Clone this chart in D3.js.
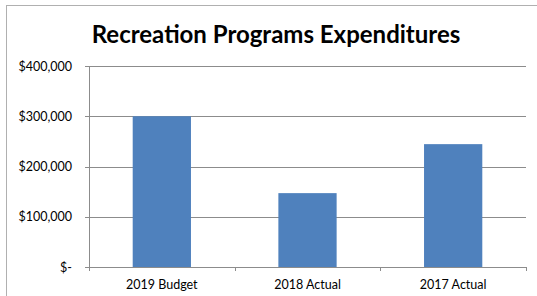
<!DOCTYPE html>
<html lang="en">
<head>
    <meta charset="UTF-8">
    <title>Recreation Programs Expenditures</title>
    <script src="https://cdn.jsdelivr.net/npm/d3@7/dist/d3.min.js"></script>
    <style>
        body { margin: 0; background: #fff; }
        text { font-family: Lato, "Open Sans", sans-serif; fill: #000; }
    </style>
</head>
<body>
<div id="main"></div>
<script>
    // chart data
    const categories = ['2019 Budget', '2018 Actual', '2017 Actual'];
    const expenditures = [300000, 147000, 244500];
    const yTicks = [0, 100000, 200000, 300000, 400000];

    const width = 537, height = 296;
    const margin = {top: 66, right: 11, bottom: 29, left: 89};

    const svg = d3.select('#main').append('svg')
        .attr('width', width)
        .attr('height', height);

    // outer chart border
    svg.append('rect')
        .attr('x', 6.5).attr('y', 5.5)
        .attr('width', 540).attr('height', 300)
        .attr('fill', '#fff')
        .attr('stroke', '#b0b0b0');

    svg.append('text')
        .attr('x', 276).attr('y', 43)
        .attr('text-anchor', 'middle')
        .style('font-size', '24px')
        .style('font-weight', 'bold')
        .text('Recreation Programs Expenditures');

    const x = d3.scaleBand()
        .domain(categories)
        .range([margin.left, width - margin.right])
        .paddingInner(0.6)
        .paddingOuter(0.3);

    const xTickScale = d3.scaleLinear()
        .domain([0, categories.length])
        .range([margin.left, width - margin.right]);

    const y = d3.scaleLinear()
        .domain([0, 400000])
        .range([height - margin.bottom, margin.top]);

    // gridlines
    svg.append('g')
        .selectAll('line')
        .data(yTicks)
        .join('line')
        .attr('x1', margin.left - 4)
        .attr('x2', width - margin.right)
        .attr('y1', d => Math.round(y(d)) + 0.5)
        .attr('y2', d => Math.round(y(d)) + 0.5)
        .attr('stroke', '#8c8c8c');

    // y axis line
    svg.append('line')
        .attr('x1', margin.left + 0.5).attr('x2', margin.left + 0.5)
        .attr('y1', y(400000)).attr('y2', y(0))
        .attr('stroke', '#8c8c8c');

    // y labels
    const fmt = d3.format(',');
    svg.append('g')
        .selectAll('text')
        .data(yTicks)
        .join('text')
        .attr('x', 72)
        .attr('y', d => y(d) + 4.5)
        .attr('text-anchor', 'end')
        .style('font-size', '12.5px')
        .text(d => d === 0 ? '$-' : '$' + fmt(d));

    // bars
    svg.append('g')
        .selectAll('rect')
        .data(expenditures)
        .join('rect')
        .attr('x', (d, i) => x(categories[i]))
        .attr('width', x.bandwidth())
        .attr('y', d => y(d))
        .attr('height', d => y(0) - y(d))
        .attr('fill', '#4f81bd');

    // x tick marks
    svg.append('g')
        .selectAll('line')
        .data(d3.range(categories.length + 1))
        .join('line')
        .attr('x1', d => Math.round(xTickScale(d)) + 0.5)
        .attr('x2', d => Math.round(xTickScale(d)) + 0.5)
        .attr('y1', y(0))
        .attr('y2', y(0) + 4)
        .attr('stroke', '#8c8c8c');

    // x labels
    svg.append('g')
        .selectAll('text')
        .data(categories)
        .join('text')
        .attr('x', d => x(d) + x.bandwidth() / 2)
        .attr('y', height - 7)
        .attr('text-anchor', 'middle')
        .style('font-size', '12.5px')
        .text(d => d);
</script>
</body>
</html>
